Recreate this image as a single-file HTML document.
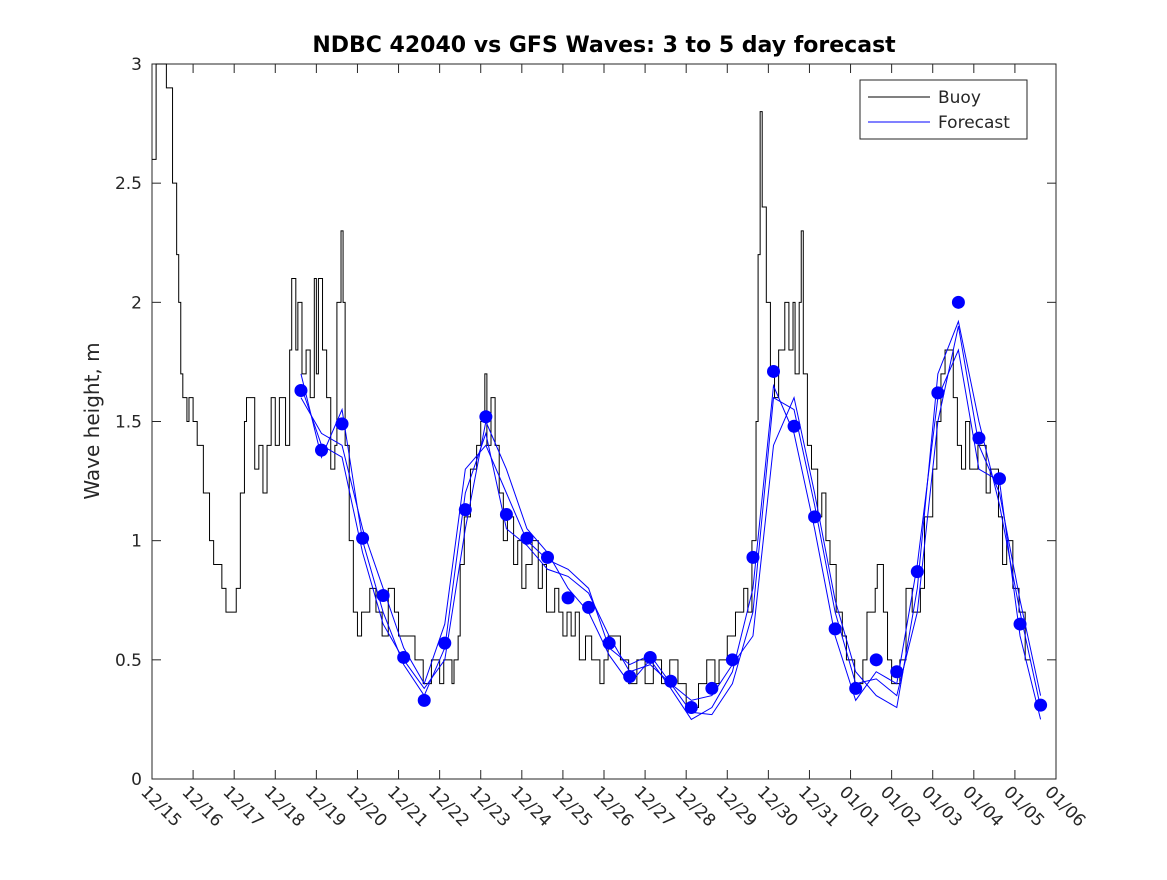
<!DOCTYPE html>
<html><head><meta charset="utf-8"><style>
body{margin:0;background:#fff;width:1167px;height:875px;overflow:hidden}
text{font-family:"DejaVu Sans","Liberation Sans",sans-serif;fill:#262626}
</style></head><body>
<svg id="chart" width="1167" height="875" xmlns="http://www.w3.org/2000/svg">
<rect width="1167" height="875" fill="#fff"/>
<text x="604" y="52" text-anchor="middle" font-size="22" font-weight="bold" style="fill:#000">NDBC 42040 vs GFS Waves: 3 to 5 day forecast</text>
<text transform="translate(99,421) rotate(-90)" text-anchor="middle" font-size="20">Wave height, m</text>
<g id="axes"></g>
<g id="marks"></g>
<g>
<rect x="860" y="80" width="167" height="59" fill="#fff" stroke="#262626" stroke-width="1"/>
<line x1="868" y1="97" x2="930" y2="97" stroke="#000"/>
<text x="938" y="103" font-size="17">Buoy</text>
<line x1="868" y1="122" x2="930" y2="122" stroke="#00f"/>
<text x="938" y="128" font-size="17">Forecast</text>
</g>
</svg>
<script>
const xTickLabels=["12/15","12/16","12/17","12/18","12/19","12/20","12/21","12/22","12/23","12/24","12/25","12/26","12/27","12/28","12/29","12/30","12/31","01/01","01/02","01/03","01/04","01/05","01/06"];
const yTicks=[0,0.5,1,1.5,2,2.5,3];
const buoyT=[0,0.1,0.35,0.5,0.6,0.65,0.7,0.75,0.85,0.9,1.0,1.1,1.25,1.4,1.5,1.7,1.8,2.05,2.15,2.25,2.3,2.5,2.6,2.7,2.8,2.9,3.0,3.1,3.25,3.35,3.4,3.5,3.55,3.65,3.75,3.85,3.95,4.0,4.05,4.15,4.25,4.35,4.45,4.5,4.6,4.65,4.7,4.8,4.9,5.0,5.1,5.3,5.45,5.6,5.75,5.9,6.0,6.4,6.6,6.8,7.0,7.1,7.3,7.35,7.45,7.5,7.6,7.75,7.9,8.0,8.1,8.15,8.25,8.35,8.45,8.55,8.65,8.8,8.9,9.0,9.1,9.25,9.4,9.5,9.6,9.8,9.9,10.0,10.1,10.2,10.3,10.4,10.55,10.7,10.9,11.0,11.1,11.4,11.6,11.8,12.0,12.2,12.4,12.6,12.8,13.0,13.3,13.5,13.7,13.8,14.0,14.2,14.4,14.5,14.6,14.7,14.75,14.8,14.85,14.95,15.05,15.15,15.25,15.4,15.5,15.6,15.65,15.75,15.8,15.85,15.95,16.05,16.2,16.3,16.4,16.5,16.65,16.8,16.9,17.1,17.3,17.4,17.6,17.65,17.8,17.9,18.0,18.2,18.35,18.5,18.7,18.8,19.0,19.1,19.2,19.3,19.5,19.6,19.7,19.8,19.9,20.1,20.3,20.4,20.6,20.7,20.8,20.95,21.1,21.25,21.37];
const buoyH=[2.6,3.0,2.9,2.5,2.2,2.0,1.7,1.6,1.5,1.6,1.5,1.4,1.2,1.0,0.9,0.8,0.7,0.8,1.2,1.5,1.6,1.3,1.4,1.2,1.4,1.6,1.4,1.6,1.4,1.8,2.1,1.8,2.0,1.7,1.8,1.6,2.1,1.7,2.1,1.8,1.6,1.3,1.4,2.0,2.3,2.0,1.4,1.0,0.7,0.6,0.7,0.8,0.7,0.6,0.8,0.7,0.6,0.5,0.4,0.5,0.4,0.5,0.4,0.5,0.6,0.9,1.1,1.3,1.4,1.5,1.7,1.4,1.6,1.4,1.2,1.0,1.1,0.9,1.0,0.8,0.9,1.0,0.8,0.9,0.7,0.8,0.7,0.6,0.7,0.6,0.7,0.5,0.6,0.5,0.4,0.5,0.6,0.5,0.4,0.5,0.4,0.5,0.4,0.5,0.4,0.3,0.4,0.5,0.4,0.5,0.6,0.7,0.8,0.7,1.0,1.5,2.2,2.8,2.4,2.0,1.7,1.6,1.8,2.0,1.8,2.0,1.7,2.0,2.3,1.7,1.4,1.3,1.1,1.2,1.0,0.9,0.7,0.6,0.5,0.4,0.5,0.7,0.8,0.9,0.7,0.5,0.4,0.5,0.8,0.7,0.8,1.1,1.3,1.5,1.7,1.8,1.6,1.4,1.3,1.5,1.3,1.4,1.2,1.3,1.1,0.9,1.0,0.8,0.7,0.5,0.5];
const fcT0=3.625, fcStep=0.5;
const dots=[1.63,1.38,1.49,1.01,0.77,0.51,0.33,0.57,1.13,1.52,1.11,1.01,0.93,0.76,0.72,0.57,0.43,0.51,0.41,0.30,0.38,0.50,0.93,1.71,1.48,1.10,0.63,0.38,0.50,0.45,0.87,1.62,2.00,1.43,1.26,0.65,0.31];
const fc1=[1.7,1.35,1.55,1.0,0.70,0.48,0.35,0.55,1.2,1.45,1.05,0.98,0.88,0.85,0.78,0.60,0.45,0.48,0.40,0.28,0.27,0.40,0.70,1.60,1.55,1.15,0.70,0.40,0.42,0.35,0.70,1.50,1.90,1.40,1.20,0.75,0.35];
const fc2=[1.6,1.45,1.40,1.05,0.80,0.55,0.40,0.65,1.30,1.40,1.20,1.00,0.92,0.88,0.80,0.55,0.48,0.52,0.40,0.33,0.35,0.48,0.60,1.40,1.60,1.20,0.75,0.45,0.35,0.30,0.80,1.70,1.92,1.50,1.15,0.70,0.30];
const fc3=[1.65,1.40,1.35,0.95,0.65,0.50,0.38,0.50,1.05,1.50,1.30,1.05,0.95,0.80,0.70,0.52,0.40,0.50,0.38,0.25,0.30,0.45,0.80,1.65,1.45,1.05,0.60,0.33,0.45,0.40,0.90,1.60,1.80,1.30,1.25,0.60,0.25];
const X0=152,X1=1056,Y0=779,Y1=64;
const xs=d=>X0+d*(X1-X0)/22;
const ys=v=>Y0-v*(Y0-Y1)/3;
const NS="http://www.w3.org/2000/svg";
function mk(tag,attrs,parent){const e=document.createElementNS(NS,tag);for(const k in attrs)e.setAttribute(k,attrs[k]);parent.appendChild(e);return e;}
const axes=document.getElementById('axes'),marks=document.getElementById('marks');
const box=mk('rect',{x:X0,y:Y1,width:X1-X0,height:Y0-Y1,fill:'none',stroke:'#262626','stroke-width':1},axes);


xTickLabels.forEach((l,i)=>{const x=xs(i);
 const t=mk('line',{x1:x,y1:Y0,x2:x,y2:Y0-9,stroke:'#262626'},axes);
 
 
 const t2=mk('line',{x1:x,y1:Y1,x2:x,y2:Y1+9,stroke:'#262626'},axes);
 
 
 const tx=mk('text',{transform:`translate(${x-12},${Y0+14}) rotate(45)`,'font-size':17},axes);
 tx.textContent=l;
 
 
});
yTicks.forEach(v=>{const y=ys(v);
 const t=mk('line',{x1:X0,y1:y,x2:X0+9,y2:y,stroke:'#262626'},axes);
 
 
 const t2=mk('line',{x1:X1,y1:y,x2:X1-9,y2:y,stroke:'#262626'},axes);
 
 
 const tx=mk('text',{x:X0-10,y:y+6,'text-anchor':'end','font-size':17},axes);
 tx.textContent=String(v);
 
 
});
let d='';
buoyT.forEach((t,i)=>{const x=xs(t),y=ys(buoyH[i]);
 if(i===0)d+=`M${x},${y}`;else d+=`H${x}V${y}`;});
const bp=mk('path',{d:d,fill:'none',stroke:'#000','stroke-width':1},marks);


[fc1,fc2,fc3].forEach((s,j)=>{
 const p=s.map((v,i)=>`${i?'L':'M'}${xs(fcT0+i*fcStep)},${ys(v)}`).join('');
 const pl=mk('path',{d:p,fill:'none',stroke:'#00f','stroke-width':1},marks);
 
 
});
dots.forEach((v,i)=>{
 const c=mk('circle',{cx:xs(fcT0+i*fcStep),cy:ys(v),r:6.5,fill:'#00f'},marks);
 
 
});
</script>
</body></html>
